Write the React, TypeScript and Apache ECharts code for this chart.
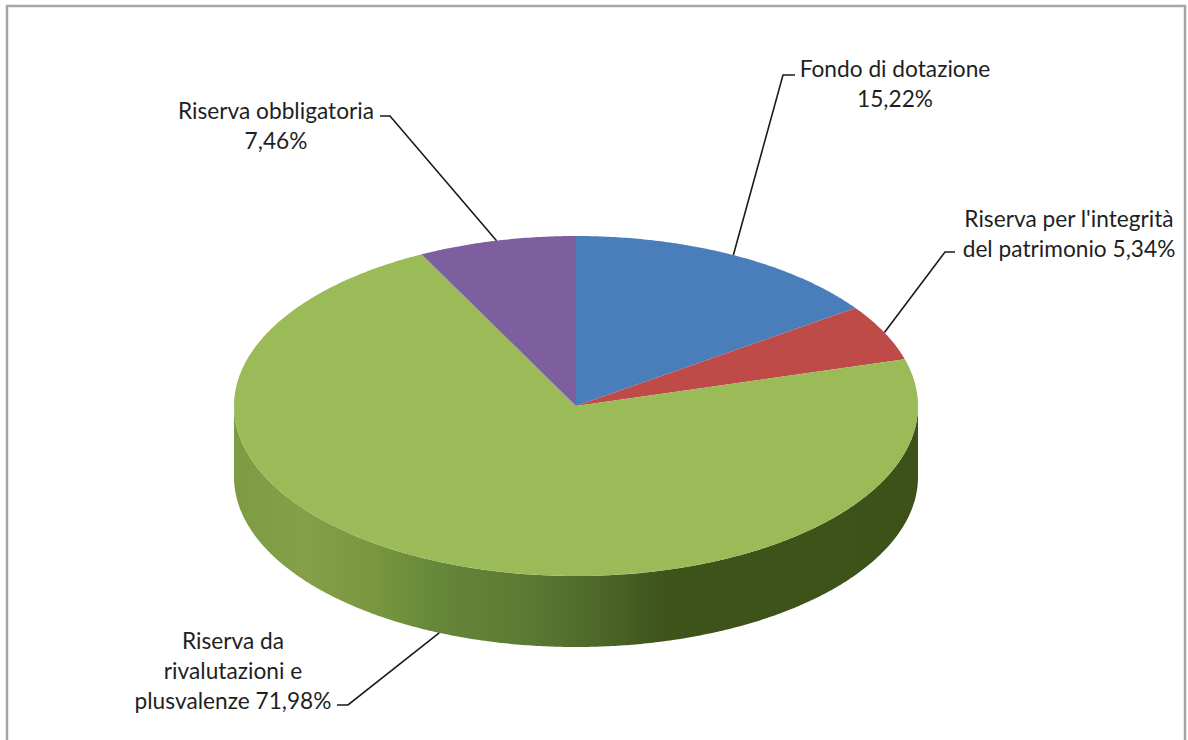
import React, { useEffect, useRef } from "react";
import * as echarts from "echarts";

const categories = ["Fondo di dotazione", "Riserva per l'integrità del patrimonio", "Riserva da rivalutazioni e plusvalenze", "Riserva obbligatoria"];
const values = [15.22, 5.34, 71.98, 7.46];
const colors = ["#4a7ebb", "#be4b48", "#9abb58", "#7d5fa0"];
const labelLines = [
  ["Fondo di dotazione", "15,22%"],
  ["Riserva per l'integrità", "del patrimonio 5,34%"],
  ["Riserva da", "rivalutazioni e", "plusvalenze 71,98%"],
  ["Riserva obbligatoria", "7,46%"],
];
const labelCenters = [[895, 68], [1069, 218], [233, 640], [276, 110]];
const elbows = [
  [[783, 75], [795, 75]],
  [[945, 252], [955, 252]],
  [[348, 705], [337, 705]],
  [[390, 116], [380, 116]],
];

const CX = 576, CY = 406, RX = 342, RY = 170, DEPTH = 71, LINE_H = 30;

function pt(deg: number, dy = 0): number[] {
  const a = (deg * Math.PI) / 180;
  return [CX + RX * Math.sin(a), CY - RY * Math.cos(a) + dy];
}
function arc(from: number, to: number, dy = 0): number[][] {
  const out: number[][] = [];
  const n = Math.max(2, Math.ceil(Math.abs(to - from) * 2));
  for (let i = 0; i <= n; i++) out.push(pt(from + ((to - from) * i) / n, dy));
  return out;
}

export default function App() {
  const ref = useRef<HTMLDivElement>(null);
  useEffect(() => {
    document.body.style.margin = "0";
    const chart = echarts.init(ref.current!, undefined, { renderer: "svg" });
    const total = values.reduce((a, b) => a + b, 0);
    const renderItem = (params: any, api: any) => {
      const i = params.dataIndex;
      const start = (values.slice(0, i).reduce((a, b) => a + b, 0) / total) * 360;
      const sweep = (api.value(0) / total) * 360;
      const end = start + sweep;
      const mid = (start + end) / 2;
      const children: any[] = [];
      const wallFrom = Math.max(start, 90);
      const wallTo = Math.min(end, 270);
      if (wallTo > wallFrom) {
        children.push({
          type: "polygon",
          shape: { points: [...arc(wallFrom, wallTo), ...arc(wallTo, wallFrom, DEPTH)] },
          style: {
            fill: new echarts.graphic.LinearGradient(0, 0, 1, 0, [
              { offset: 0, color: "#7d9c42" },
              { offset: 0.1, color: "#84a048" },
              { offset: 0.2, color: "#7a9840" },
              { offset: 0.29, color: "#66883a" },
              { offset: 0.43, color: "#5b7a33" },
              { offset: 0.535, color: "#4c6728" },
              { offset: 0.625, color: "#3e541b" },
              { offset: 1, color: "#3c5219" },
            ]),
          },
        });
      }
      children.push({
        type: "polygon",
        shape: { points: [[CX, CY], ...arc(start, end)] },
        style: { fill: colors[i] },
      });
      const anchor = pt(mid, mid > 90 && mid < 270 ? DEPTH : 0);
      children.push({
        type: "polyline",
        shape: { points: [anchor, ...elbows[i]] },
        style: { stroke: "#1a1a1a", lineWidth: 1.6, fill: "none" },
      });
      labelLines[i].forEach((t, k) => {
        children.push({
          type: "text",
          x: labelCenters[i][0],
          y: labelCenters[i][1] + k * LINE_H,
          style: {
            text: t,
            fill: "#1f1f1f",
            font: '22.7px Lato, sans-serif',
            align: "center",
            verticalAlign: "middle",
          },
        });
      });
      return { type: "group", children };
    };
    chart.setOption({
      animation: false,
      backgroundColor: "#ffffff",
      graphic: [
        {
          type: "polyline",
          shape: { points: [[7, 740], [7, 6], [1185, 6], [1185, 740]] },
          style: { stroke: "#a6a6a6", lineWidth: 2.5, fill: "none" },
        },
      ],
      series: [
        {
          type: "custom",
          coordinateSystem: "none",
          renderItem,
          data: values.map((v, i) => ({ name: categories[i], value: [v] })),
        },
      ],
    });
    return () => chart.dispose();
  }, []);
  return <div ref={ref} style={{ position: "absolute", left: 0, top: 0, width: 1188, height: 740 }} />;
}
